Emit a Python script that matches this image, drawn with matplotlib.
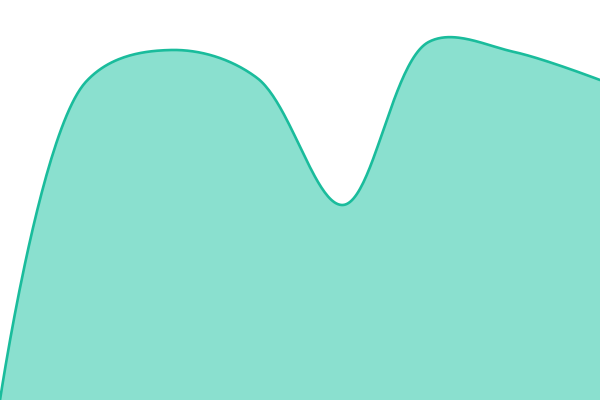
import numpy as np
import matplotlib
matplotlib.use("Agg")
import matplotlib.pyplot as plt

categories = [0, 1, 2, 3, 4, 5, 6, 7]
values = [0, 318, 350, 322, 195, 358, 348, 320]

LINE = "#1abc9c"
FILL = "#8ae0cf"


def catmull_rom(px, py, alpha=0.5, n=50):
    """Centripetal Catmull-Rom (as in d3.curveCatmullRom), in pixel space."""
    pts = list(zip(px, py))
    pts = [pts[0]] + pts + [pts[-1]]
    outx, outy = [], []
    t = np.linspace(0, 1, n)
    eps = 1e-12
    for i in range(1, len(pts) - 2):
        p0, p1, p2, p3 = (np.array(p, float) for p in pts[i - 1:i + 3])
        d01 = np.hypot(*(p1 - p0)); d12 = np.hypot(*(p2 - p1)); d23 = np.hypot(*(p3 - p2))
        l01a, l12a, l23a = d01 ** alpha, d12 ** alpha, d23 ** alpha
        l01_2a, l12_2a, l23_2a = l01a ** 2, l12a ** 2, l23a ** 2
        c1 = p1.copy()
        c2 = p2.copy()
        if l01a > eps:
            a = 2 * l01_2a + 3 * l01a * l12a + l12_2a
            m = 3 * l01a * (l01a + l12a)
            c1 = (p1 * a - p0 * l12_2a + p2 * l01_2a) / m
        if l23a > eps:
            b = 2 * l23_2a + 3 * l23a * l12a + l12_2a
            m = 3 * l23a * (l23a + l12a)
            c2 = (p2 * b + p1 * l23_2a - p3 * l12_2a) / m
        bz = ((1 - t) ** 3)[:, None] * p1 + (3 * (1 - t) ** 2 * t)[:, None] * c1 \
            + (3 * (1 - t) * t ** 2)[:, None] * c2 + (t ** 3)[:, None] * p2
        outx.extend(bz[:, 0]); outy.extend(bz[:, 1])
    return np.array(outx), np.array(outy)


fig = plt.figure(figsize=(6, 4), dpi=100)
ax = fig.add_axes([0, 0, 1, 1])
ax.set_xlim(0, len(categories) - 1)
ax.set_ylim(0, 400)
fig.canvas.draw()
to_px = ax.transData
pix = to_px.transform(np.column_stack([categories, values]))
sx_p, sy_p = catmull_rom(pix[:, 0], pix[:, 1])
back = to_px.inverted().transform(np.column_stack([sx_p, sy_p]))
sx, sy = back[:, 0], back[:, 1]
ax.fill_between(sx, 0, sy, color=FILL, linewidth=0)
ax.plot(sx, sy, color=LINE, linewidth=1.9, solid_capstyle="round")
ax.axis("off")
fig.savefig("out.png", dpi=100)
